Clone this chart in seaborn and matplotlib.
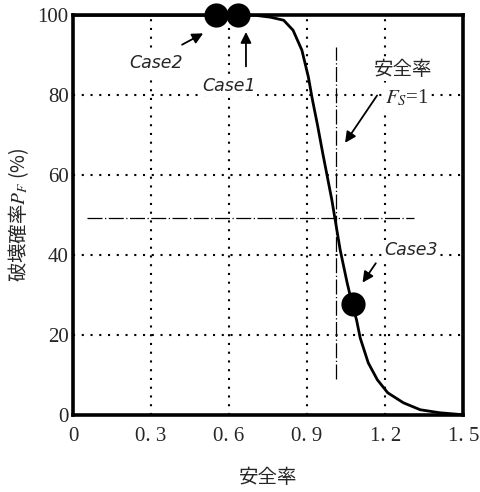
import matplotlib
matplotlib.use("Agg")
import matplotlib.pyplot as plt
import seaborn as sns
import pandas as pd

# curve: safety factor vs failure probability (%)
safety_factor = [0.0, 0.60, 0.70, 0.76, 0.81, 0.846, 0.88, 0.905, 0.92, 0.94, 0.96,
                 0.995, 1.027, 1.054, 1.073, 1.09, 1.104, 1.135, 1.17, 1.21, 1.27,
                 1.335, 1.41, 1.5]
fail_prob = [100, 100, 100, 99.5, 98.75, 96.25, 91.25, 84.5, 79.0, 72.5, 65.5,
             53.8, 41.3, 33.0, 27.8, 23.75, 19.25, 13.0, 8.75, 5.5, 3.0,
             1.25, 0.5, 0.0]

case_names = ["Case1", "Case2", "Case3"]
case_x = [0.635, 0.548, 1.075]
case_y = [100, 100, 27.8]

x_ticks = [0, 0.3, 0.6, 0.9, 1.2, 1.5]
x_ticklabels = ["0", "0. 3", "0. 6", "0. 9", "1. 2", "1. 5"]
y_ticks = [0, 20, 40, 60, 80, 100]

sns.set_style("white")
plt.rcParams["font.family"] = ["Liberation Serif", "Noto Sans CJK JP", "DejaVu Sans"]
plt.rcParams["mathtext.fontset"] = "stix"
jp = ["Noto Sans CJK JP", "DejaVu Sans"]

fig = plt.figure(figsize=(4.8, 4.92), dpi=100)
ax = fig.add_axes([0.152, 0.157, 0.813, 0.812])

curve = pd.DataFrame({"fs": safety_factor, "pf": fail_prob})
cases = pd.DataFrame({"name": case_names, "fs": case_x, "pf": case_y})

# grid (dotted)
for gx in x_ticks[1:-1]:
    ax.axvline(gx, color="black", ls=(0, (1, 3.2)), lw=1.5, zorder=1)
for gy in y_ticks[1:-1]:
    ax.axhline(gy, color="black", ls=(0, (1, 3.2)), lw=1.5, zorder=1)

# Fs = 1 reference lines (dash-dot)
ax.plot([1.01, 1.01], [9, 92], color="black", lw=0.9, ls=(0, (12, 2, 1, 2)), zorder=2)
ax.plot([0.055, 1.31], [49.3, 49.3], color="black", lw=0.9, ls=(0, (12, 2, 1, 2)), zorder=2)

sns.lineplot(data=curve, x="fs", y="pf", color="black", lw=2.0, ax=ax,
             estimator=None, sort=False, zorder=3)
sns.scatterplot(data=cases, x="fs", y="pf", color="black", s=260, ax=ax,
                edgecolor="black", zorder=5, clip_on=False)

box = dict(facecolor="white", edgecolor="none", pad=1)
arrow = dict(arrowstyle="-|>", color="black", lw=1.3, mutation_scale=16)

ax.annotate("", xy=(0.51, 95.8), xytext=(0.41, 92.3), arrowprops=arrow, zorder=4)
ax.text(0.32, 88, "Case2", style="italic", fontsize=12.5, family=["DejaVu Sans"],
        ha="center", va="center", bbox=box, zorder=4)
ax.annotate("", xy=(0.665, 96.5), xytext=(0.665, 86.5), arrowprops=arrow, zorder=4)
ax.text(0.60, 82.3, "Case1", style="italic", fontsize=12.5, family=["DejaVu Sans"],
        ha="center", va="center", bbox=box, zorder=4)
ax.annotate("", xy=(1.107, 32.5), xytext=(1.17, 38.5), arrowprops=arrow, zorder=4)
ax.text(1.30, 41.2, "Case3", style="italic", fontsize=12.5, family=["DejaVu Sans"],
        ha="center", va="center", bbox=box, zorder=4)

ax.text(1.27, 86.5, "安全率", fontsize=14, family=jp, ha="center", va="center",
        bbox=box, zorder=4)
ax.text(1.285, 79.2, r"$F_S$=1", fontsize=15, family=["Liberation Serif"], ha="center",
        va="center", bbox=box, zorder=4)
ax.annotate("", xy=(1.04, 67.5), xytext=(1.175, 80.5), arrowprops=arrow, zorder=4)

ax.set_xlim(0, 1.5)
ax.set_ylim(0, 100)
ax.set_xticks(x_ticks)
ax.set_xticklabels(x_ticklabels, fontsize=15)
ax.set_yticks(y_ticks)
ax.set_yticklabels([str(v) for v in y_ticks], fontsize=15)
ax.tick_params(axis="x", length=0, pad=9)
ax.tick_params(axis="y", length=0, pad=3)
for side in ax.spines.values():
    side.set_linewidth(2.6)
    side.set_color("black")

ax.set_xlabel("安全率", fontsize=14, family=jp, labelpad=15)
ax.set_ylabel(r"破壊確率$P_F$ (%)", fontsize=14, family=jp, labelpad=5)

fig.savefig("out.png", dpi=100)
